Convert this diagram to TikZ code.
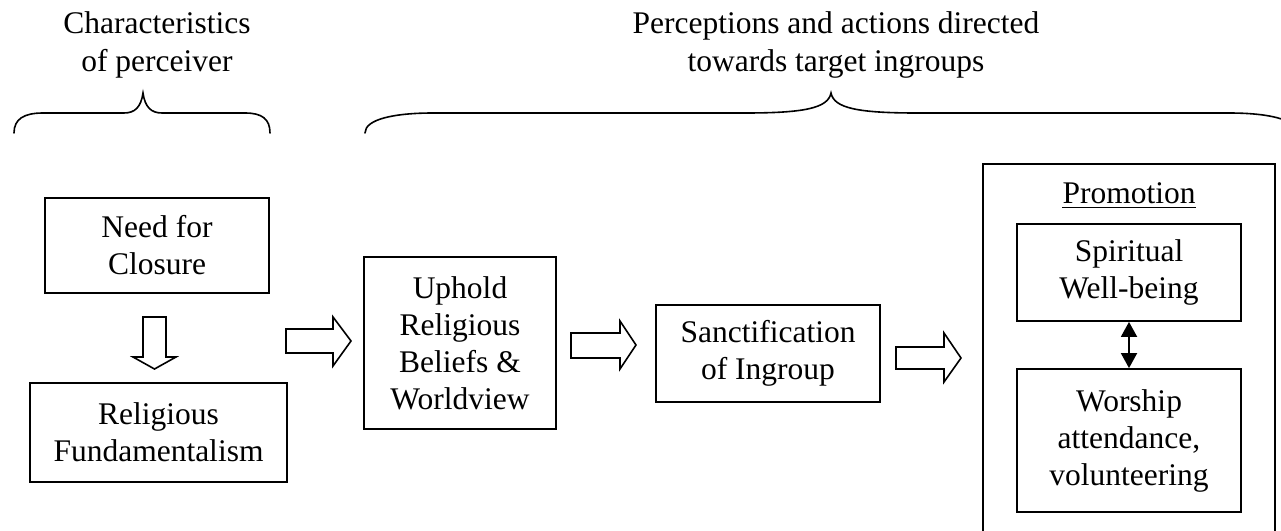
\documentclass[tikz,border=0pt]{standalone}
\usepackage{fontspec}
\setmainfont{Liberation Serif}
\usetikzlibrary{arrows.meta}
\begin{document}
\begin{tikzpicture}[x=1pt,y=-1pt,
  box/.style={draw, line width=1.8pt, align=center, inner sep=0pt, font=\fontsize{31.5}{37}\selectfont},
  lbl/.style={align=center, inner sep=0pt, font=\fontsize{31.5}{38}\selectfont},
  barrow/.style={draw, line width=1.6pt, line join=miter, fill=white},
  bracestyle/.style={draw, line width=1.6pt, line cap=round}]
\useasboundingbox (0,0) rectangle (1281,530);

% top labels
\node[lbl] (cp) at (157,45) {Characteristics\\of perceiver};
\node[lbl] (pa) at (836,45) {Perceptions and actions directed\\towards target ingroups};

% braces
\path[bracestyle] (14,133) .. controls (14,119) and (24,113) .. (43,113) -- (124,113)
  .. controls (135,113) and (141,107) .. (143,93)
  .. controls (145,107) and (151,113) .. (162,113) -- (245,113)
  .. controls (262,113) and (270,119) .. (270,133);
\path[bracestyle] (365,133) .. controls (365,119) and (395,113) .. (433,113) -- (745,113)
  .. controls (805,113) and (828,108) .. (831,93)
  .. controls (834,108) and (857,113) .. (917,113) -- (1229,113)
  .. controls (1267,113) and (1297,119) .. (1297,133);

% boxes
\node[box, minimum width=224pt, minimum height=95pt] (nfc) at (157,245.5) {Need for\\Closure};
\node[box, minimum width=257pt, minimum height=99pt] (rf) at (158.5,432.5) {Religious\\Fundamentalism};
\node[box, minimum width=192pt, minimum height=172pt] (up) at (460,343) {Uphold\\Religious\\Beliefs \&\\Worldview};
\node[box, minimum width=224pt, minimum height=97pt] (si) at (768,353.5) {Sanctification\\of Ingroup};

% promotion group
\coordinate (pbl) at (983,532);
\coordinate (pbr) at (1275,532);
\draw[line width=1.8pt] (pbl) -- (983,164) -- (1275,164) -- (pbr);
\node[lbl, anchor=base] (pr) at (1129,203) {Promotion};
\draw[line width=1.4pt] ([yshift=-4.5pt]pr.base west) -- ([yshift=-4.5pt]pr.base east);
\node[box, minimum width=224pt, minimum height=97pt] (sw) at (1129,272.5) {Spiritual\\Well-being};
\node[box, minimum width=224pt, minimum height=143pt] (wa) at (1129,440.5) {Worship\\attendance,\\volunteering};
\draw[line width=1.8pt, {Triangle[length=15pt,width=16pt]}-{Triangle[length=15pt,width=16pt]}] (sw) -- (wa);

% block arrows
\path[barrow] (143,317) -- (166,317) -- (166,357) -- (176,357) -- (154.5,369) -- (133,357) -- (143,357) -- cycle;
\path[barrow] (286,329) -- (333,329) -- (333,317) -- (351,341) -- (333,366) -- (333,353) -- (286,353) -- cycle;
\path[barrow] (571,333) -- (620,333) -- (620,321) -- (636,345) -- (620,369) -- (620,358) -- (571,358) -- cycle;
\path[barrow] (896,347) -- (944,347) -- (944,333) -- (961,358) -- (944,382) -- (944,369) -- (896,369) -- cycle;
\end{tikzpicture}
\end{document}
